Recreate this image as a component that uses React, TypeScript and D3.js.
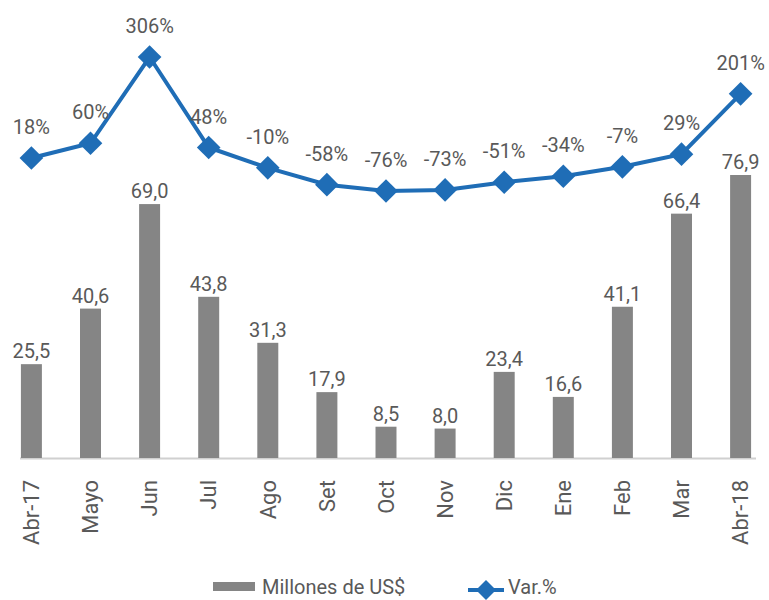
import React, { useEffect, useRef } from "react";
import * as d3 from "d3";

const months = ["Abr-17", "Mayo", "Jun", "Jul", "Ago", "Set", "Oct", "Nov", "Dic", "Ene", "Feb", "Mar", "Abr-18"];
const millones = [25.5, 40.6, 69.0, 43.8, 31.3, 17.9, 8.5, 8.0, 23.4, 16.6, 41.1, 66.4, 76.9];
const variacion = [18, 60, 306, 48, -10, -58, -76, -73, -51, -34, -7, 29, 201];

const FONT = "Roboto, 'Noto Sans', sans-serif";
const GRAY = "#858585";
const BLUE = "#1f6db6";
const TEXT = "#595959";

const App = () => {
  const ref = useRef<SVGSVGElement>(null);

  useEffect(() => {
    const svg = d3.select(ref.current);
    svg.selectAll("*").remove();

    const x = d3.scaleBand().domain(months).range([2, 770]).paddingInner(0.645).paddingOuter(0.32);
    const yBar = d3.scaleLinear().domain([0, 100]).range([458, 90]);
    const yLine = d3.scaleLinear().domain([-76, 306]).range([191, 57]);
    const cx = (m: string) => (x(m) as number) + x.bandwidth() / 2;

    // baseline
    svg.append("line")
      .attr("x1", 20).attr("x2", 756)
      .attr("y1", yBar(0) + 0.5).attr("y2", yBar(0) + 0.5)
      .attr("stroke", "#d0d0d0").attr("stroke-width", 2);

    // bars
    svg.append("g").selectAll("rect").data(millones).enter().append("rect")
      .attr("x", (d, i) => x(months[i]) as number)
      .attr("width", x.bandwidth())
      .attr("y", d => yBar(d))
      .attr("height", d => yBar(0) - yBar(d))
      .attr("fill", GRAY);

    svg.append("g").selectAll("text").data(millones).enter().append("text")
      .attr("x", (d, i) => cx(months[i]))
      .attr("y", d => yBar(d) - 6)
      .attr("text-anchor", "middle")
      .attr("font-family", FONT).attr("font-size", 20).attr("fill", TEXT)
      .text(d => d.toFixed(1).replace(".", ","));

    // x labels
    svg.append("g").selectAll("text").data(months).enter().append("text")
      .attr("transform", m => `translate(${cx(m)},480) rotate(-90)`)
      .attr("dy", "0.35em")
      .attr("text-anchor", "end")
      .attr("font-family", FONT).attr("font-size", 22).attr("fill", TEXT)
      .text(m => m);

    // line
    const line = d3.line<number>()
      .x((d, i) => cx(months[i]))
      .y(d => yLine(d));
    svg.append("path")
      .attr("d", line(variacion))
      .attr("fill", "none").attr("stroke", BLUE).attr("stroke-width", 4);

    const diamond = d3.symbol(d3.symbolSquare, 280);
    svg.append("g").selectAll("path").data(variacion).enter().append("path")
      .attr("d", diamond())
      .attr("transform", (d, i) => `translate(${cx(months[i])},${yLine(d)}) rotate(45)`)
      .attr("fill", BLUE);

    svg.append("g").selectAll("text").data(variacion).enter().append("text")
      .attr("x", (d, i) => cx(months[i]))
      .attr("y", d => yLine(d) - 24)
      .attr("text-anchor", "middle")
      .attr("font-family", FONT).attr("font-size", 20).attr("fill", TEXT)
      .text(d => d + "%");

    // legend
    const lg = svg.append("g");
    lg.append("rect").attr("x", 213).attr("y", 582).attr("width", 42).attr("height", 9).attr("fill", GRAY);
    lg.append("text").attr("x", 262).attr("y", 594)
      .attr("font-family", FONT).attr("font-size", 20).attr("fill", TEXT)
      .text("Millones de US$");
    lg.append("line").attr("x1", 468).attr("x2", 504).attr("y1", 590).attr("y2", 590)
      .attr("stroke", BLUE).attr("stroke-width", 4);
    lg.append("path").attr("d", d3.symbol(d3.symbolSquare, 200)())
      .attr("transform", "translate(486,590) rotate(45)").attr("fill", BLUE);
    lg.append("text").attr("x", 508).attr("y", 594)
      .attr("font-family", FONT).attr("font-size", 20).attr("fill", TEXT)
      .text("Var.%");
  }, []);

  return (
    <svg ref={ref} width={769} height={600} style={{ position: "absolute", left: 0, top: 0 }} />
  );
};

export default App;
